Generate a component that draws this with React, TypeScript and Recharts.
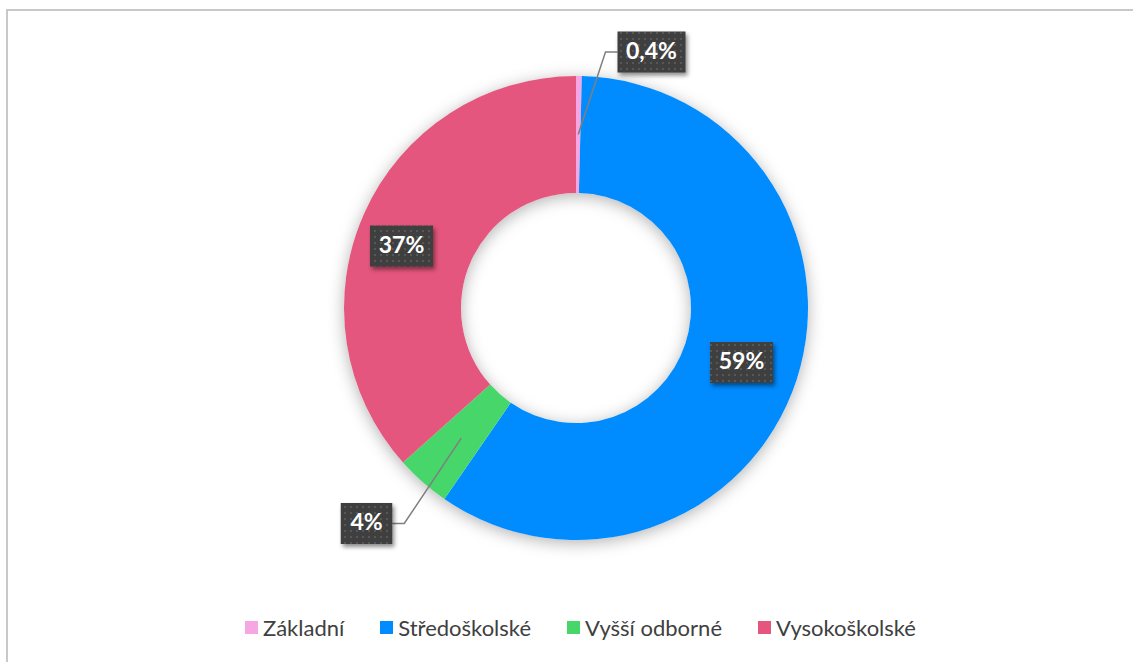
import { PieChart, Pie, Cell, Legend } from 'recharts'

const CATEGORIES = ['Základní', 'Středoškolské', 'Vyšší odborné', 'Vysokoškolské']
const SHARES = [0.4, 59.2, 3.8, 36.6]
const COLORS = ['#f7a6e4', '#008bfe', '#46d66a', '#e4567d']

const DATA = CATEGORIES.map((name, i) => ({ name, value: SHARES[i] }))
const RING = [{ name: 'ring', value: 1 }]

const W = 1133
const H = 662
const CX = 576
const CY = 308
const INNER = 115
const OUTER = 232
const RAD = Math.PI / 180

// where each label box sits, relative to the pie centre
const LABEL_SPOTS = [
  { dx: 75.5, dy: -256, outside: true },
  { dx: 165.5, dy: 54.5, outside: false },
  { dx: -209.5, dy: 215.5, outside: true },
  { dx: -174.5, dy: -62, outside: false },
]

const fmt = (v: number) => (v < 1 ? v.toFixed(1).replace('.', ',') + '%' : Math.round(v) + '%')

const textWidth = (s: string) =>
  s.split('').reduce((w, c) => w + (c === '%' ? 18 : c === ',' ? 5 : 11.5), 0)

const renderLabel = (props: any) => {
  const { cx, cy, midAngle, innerRadius, outerRadius, index } = props
  const spot = LABEL_SPOTS[index]
  if (!spot) return null
  const text = fmt(SHARES[index])
  const w = textWidth(text) + 22
  const h = 41
  const bx = cx + spot.dx
  const by = cy + spot.dy
  const r = (innerRadius + outerRadius) / 2
  const px = cx + r * Math.cos(-midAngle * RAD)
  const py = cy + r * Math.sin(-midAngle * RAD)
  const right = spot.dx > 0
  const edge = right ? bx - w / 2 : bx + w / 2
  const ex = right ? edge - 12 : edge + 12
  return (
    <g key={'lbl' + index}>
      {spot.outside && (
        <polyline
          points={`${px},${py} ${ex},${by} ${edge},${by}`}
          fill="none"
          stroke="#7f7f7f"
          strokeWidth={1.5}
        />
      )}
      <rect
        x={bx - w / 2}
        y={by - h / 2}
        width={w}
        height={h}
        fill="url(#dots)"
        style={{ filter: 'drop-shadow(2px 3px 2px rgba(0,0,0,0.45))' }}
      />
      <text
        x={bx}
        y={by + 1}
        textAnchor="middle"
        dominantBaseline="middle"
        fill="#ffffff"
        fontFamily="Lato, 'Open Sans', sans-serif"
        fontWeight={700}
        fontSize={23}
      >
        {text}
      </text>
    </g>
  )
}

const LegendRow = () => (
  <div
    style={{
      display: 'flex',
      justifyContent: 'center',
      paddingLeft: 28,
      fontFamily: "Lato, 'Open Sans', sans-serif",
      fontSize: 22,
      color: '#404040',
    }}
  >
    {CATEGORIES.map((c, i) => (
      <div key={c} style={{ display: 'flex', alignItems: 'center', marginRight: i < CATEGORIES.length - 1 ? 36 : 0 }}>
        <span style={{ width: 13, height: 13, background: COLORS[i], marginRight: 5, display: 'inline-block' }} />
        <span>{c}</span>
      </div>
    ))}
  </div>
)

export default function App() {
  return (
    <div style={{ position: 'absolute', left: 0, top: 0, width: W, height: H, overflow: 'hidden', background: '#fff' }}>
      <style>{'.ring-shadow path { filter: drop-shadow(0px 3px 8px rgba(0,0,0,0.3)); }'}</style>
      <div
        style={{
          position: 'absolute',
          left: 6,
          top: 9,
          width: W + 40,
          height: H + 40,
          border: '2px solid #c8c8c8',
          boxSizing: 'border-box',
        }}
      />
      <div style={{ position: 'absolute', left: 0, top: 0 }}>
        <PieChart width={W} height={H} margin={{ top: 0, right: 0, bottom: 0, left: 0 }}>
          <defs>
            <pattern id="dots" width={6} height={6} patternUnits="userSpaceOnUse">
              <rect width={6} height={6} fill="#3f3f3f" />
              <rect x={2} y={2} width={2} height={2} fill="#575757" />
            </pattern>
          </defs>
          <Pie
            className="ring-shadow"
            data={RING}
            dataKey="value"
            cx={CX}
            cy={CY}
            innerRadius={INNER}
            outerRadius={OUTER}
            startAngle={90}
            endAngle={-270}
            stroke="none"
            fill="#ffffff"
            legendType="none"
            isAnimationActive={false}
          />
          <Pie
            data={DATA}
            dataKey="value"
            nameKey="name"
            cx={CX}
            cy={CY}
            innerRadius={INNER}
            outerRadius={OUTER}
            startAngle={90}
            endAngle={-270}
            stroke="none"
            label={renderLabel}
            labelLine={false}
            isAnimationActive={false}
          >
            {DATA.map((d, i) => (
              <Cell key={d.name} fill={COLORS[i]} />
            ))}
          </Pie>
          <Legend
            content={() => <LegendRow />}
            wrapperStyle={{ left: 0, top: 614, width: W }}
          />
        </PieChart>
      </div>
    </div>
  )
}
